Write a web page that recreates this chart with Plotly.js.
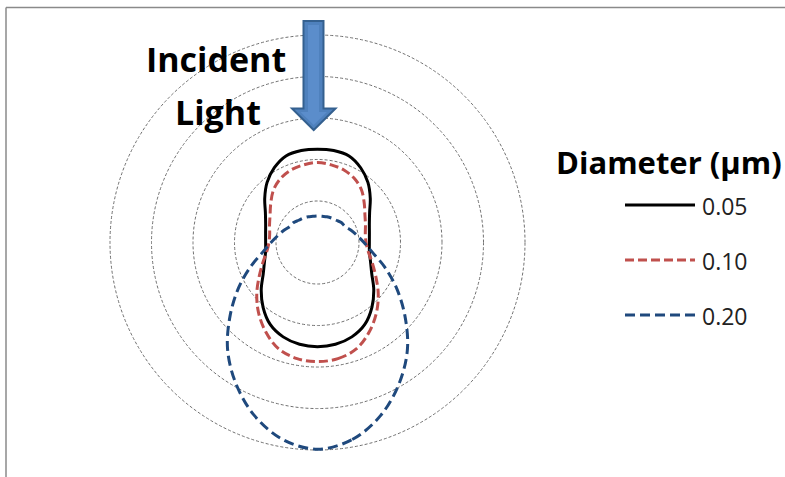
<!DOCTYPE html>
<html>
<head>
<meta charset="utf-8">
<script src="https://cdn.plot.ly/plotly-3.0.1.min.js"></script>
<style>html,body{margin:0;padding:0;background:#fff;}#chart{width:785px;height:477px;}</style>
</head>
<body>
<div id="chart"></div>
<script>
// Scattering angle (degrees from forward direction), one half of the symmetric pattern
const theta = [0,10,20,30,40,50,60,70,80,90,100,110,120,130,140,150,160,170,180];
// Relative scattered intensity
const r005 = [2.51,2.49,2.42,2.28,2.04,1.77,1.51,1.36,1.27,1.25,1.27,1.33,1.45,1.66,1.89,2.08,2.22,2.25,2.25];
const r010 = [2.87,2.84,2.73,2.49,2.21,1.91,1.62,1.40,1.24,1.17,1.17,1.23,1.32,1.47,1.65,1.78,1.86,1.90,1.93];
const r020 = [4.98,4.82,4.44,3.93,3.37,2.75,2.20,1.72,1.34,1.12,0.97,0.86,0.77,0.75,0.70,0.68,0.66,0.64,0.64];
const seriesNames = ['0.05','0.10','0.20'];
const legendTitle = 'Diameter (µm)';
const labelLines = ['Incident','Light'];

const W = 785, H = 477;
const px = x => x / W;
const py = y => 1 - y / H;

function mirrorTheta(t){ return t.concat(t.slice(0,-1).reverse().map(a => 360 - a)); }
function mirrorR(r){ return r.concat(r.slice(0,-1).reverse()); }

const styles = [
  {color:'#000000', width:3, dash:'solid'},
  {color:'#C0504D', width:3, dash:'9px,4px'},
  {color:'#1F497D', width:3, dash:'10px,5px'}
];
const values = [r005, r010, r020];

const data = values.map((r,i) => ({
  type:'scatterpolar', mode:'lines',
  theta: mirrorTheta(theta), r: mirrorR(r),
  name: seriesNames[i],
  line: {color: styles[i].color, width: styles[i].width, dash: styles[i].dash, shape:'spline', smoothing:1},
  hoverinfo:'skip', showlegend:false
}));

// polar placement
const cx = 317.5, cy = 242.5, rOuter = 207.5, rMax = 5.05;
const R = rOuter * rMax / 5;

const shapes = [];
// chart frame (top and left edges visible)
shapes.push({type:'line', xref:'paper', yref:'paper', x0:px(6), x1:px(785), y0:py(7.5), y1:py(7.5), line:{color:'#8a8a8a', width:1.5}});
shapes.push({type:'line', xref:'paper', yref:'paper', x0:px(6), x1:px(6), y0:py(7.5), y1:py(477), line:{color:'#8a8a8a', width:1.5}});
// incident light arrow
const toPath = pts => 'M' + pts.map(p => px(p[0]).toFixed(5) + ',' + py(p[1]).toFixed(5)).join('L') + 'Z';
const arrowPts = [[303.5,21],[323.5,21],[323.5,108.5],[335.5,108.5],[313.7,130],[292,108.5],[303.5,108.5]];
shapes.push({type:'path', xref:'paper', yref:'paper', path:toPath(arrowPts), fillcolor:'#4F81BD', line:{color:'#34608F', width:2}, layer:'above'});
const innerPts = [[308,25],[319,25],[319,112],[327,112],[313.7,125],[300.5,112],[308,112]];
shapes.push({type:'path', xref:'paper', yref:'paper', path:toPath(innerPts), fillcolor:'#5B8DCB', line:{width:0}, layer:'above'});
// legend sample lines
const legY = [205, 260, 315];
legY.forEach((y,i) => {
  shapes.push({type:'line', xref:'paper', yref:'paper', x0:px(625), x1:px(695), y0:py(y), y1:py(y),
    line:{color:styles[i].color, width:styles[i].width, dash:styles[i].dash}});
});

const annotations = [];
annotations.push({xref:'paper', yref:'paper', x:px(216), y:py(59), text:'<b>'+labelLines[0]+'</b>', showarrow:false,
  xanchor:'center', yanchor:'middle', font:{family:'Open Sans', size:34, color:'#000'}});
annotations.push({xref:'paper', yref:'paper', x:px(218), y:py(112), text:'<b>'+labelLines[1]+'</b>', showarrow:false,
  xanchor:'center', yanchor:'middle', font:{family:'Open Sans', size:34, color:'#000'}});
annotations.push({xref:'paper', yref:'paper', x:px(554), y:py(162), text:'<b>'+legendTitle+'</b>', showarrow:false,
  xanchor:'left', yanchor:'middle', font:{family:'Open Sans', size:31, color:'#000'}});
legY.forEach((y,i) => {
  annotations.push({xref:'paper', yref:'paper', x:px(700), y:py(y+1), text:seriesNames[i], showarrow:false,
    xanchor:'left', yanchor:'middle', font:{family:'Open Sans', size:23, color:'#222'}});
});

const layout = {
  width:W, height:H,
  margin:{l:0,r:0,t:0,b:0},
  paper_bgcolor:'#ffffff',
  showlegend:false,
  polar:{
    domain:{x:[px(cx-R), px(cx+R)], y:[py(cy+R), py(cy-R)]},
    bgcolor:'rgba(0,0,0,0)',
    radialaxis:{range:[0,rMax], dtick:1, tick0:0, showticklabels:false, ticks:'', showline:false,
      gridcolor:'#707070', gridwidth:1, griddash:'3px,2px', angle:90},
    angularaxis:{rotation:-90, direction:'counterclockwise', showgrid:false, showline:false,
      showticklabels:false, ticks:''}
  },
  shapes:shapes,
  annotations:annotations
};

Plotly.newPlot('chart', data, layout, {staticPlot:true, displayModeBar:false});
</script>
</body>
</html>
